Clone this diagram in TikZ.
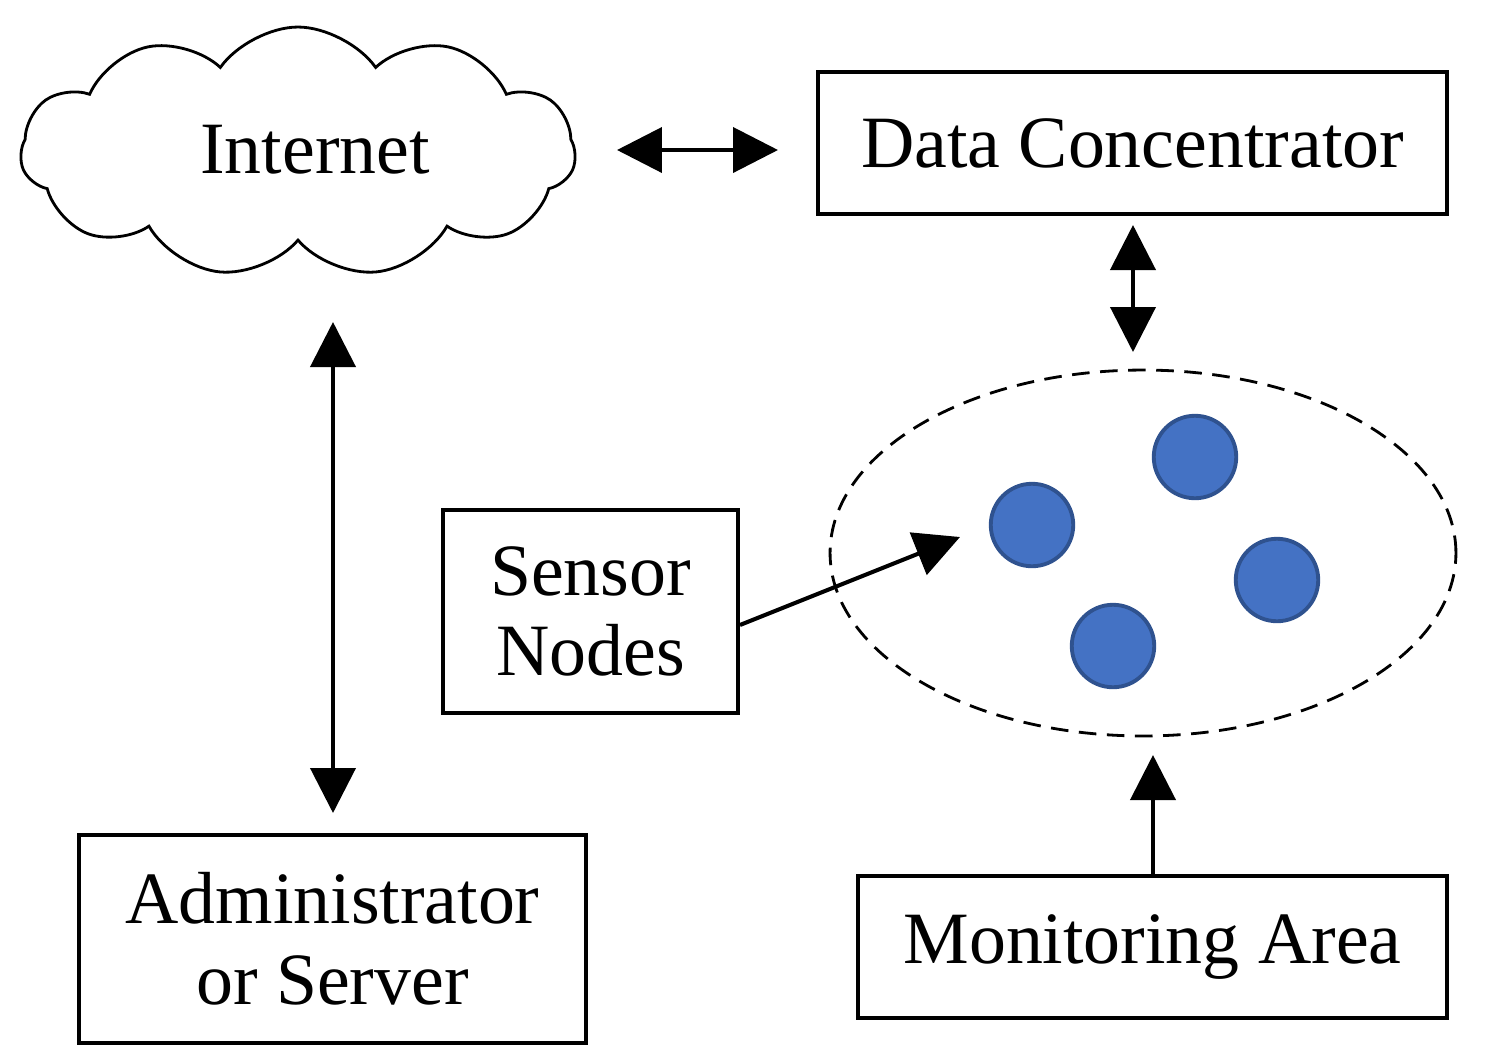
\documentclass[tikz,border=0pt]{standalone}
\usepackage{fontspec}
\setmainfont{Liberation Serif}
\usetikzlibrary{shapes.symbols,shapes.geometric,arrows.meta}
\definecolor{nodefill}{HTML}{4472C4}
\definecolor{nodeline}{HTML}{2F528F}
\begin{document}
\begin{tikzpicture}[x=0.02cm,y=-0.02cm,
  box/.style={draw,line width=2pt,inner sep=0pt,font=\fontsize{42}{50}\selectfont,align=center},
  conn/.style={line width=2.3pt,{Triangle[length=0.9cm,width=0.9cm]}-{Triangle[length=0.9cm,width=0.9cm]}},
  oneway/.style={line width=2.3pt,-{Triangle[length=0.9cm,width=0.9cm]}},
  sensor/.style={circle,draw=nodeline,fill=nodefill,line width=2.2pt,minimum width=1.65cm,inner sep=0pt}]
\useasboundingbox (0,0) rectangle (1499,1063);
\node[cloud,draw,line width=1.6pt,cloud puffs=11,cloud puff arc=110,aspect=2.2,minimum width=11.1cm,minimum height=5cm] (cloud) at (298,152) {};
\node[font=\fontsize{42}{50}\selectfont] (inet) at (315,150) {Internet};
\node[box,minimum width=12.58cm,minimum height=2.84cm] (dc) at (1132.5,143) {Data Concentrator};
\node[box,minimum width=10.14cm,minimum height=4.16cm] (admin) at (332.5,939) {Administrator\\[-4pt]or Server};
\node[box,minimum width=5.9cm,minimum height=4.06cm] (sn) at (590.5,611.5) {Sensor\\[-4pt]Nodes};
\node[box,minimum width=11.78cm,minimum height=2.84cm] (ma) at (1152.5,947) {Monitoring Area};
\node[ellipse,draw,dashed,dash pattern=on 10pt off 6pt,line width=1.6pt,minimum width=12.52cm,minimum height=7.32cm] (area) at (1143,553) {};
\node[sensor] (s1) at (1032,525) {};
\node[sensor] (s2) at (1195,457) {};
\node[sensor] (s3) at (1277,580) {};
\node[sensor] (s4) at (1113,646) {};
\coordinate (a1) at (617,150); \coordinate (a2) at (778,150);
\coordinate (b1) at (1133,225); \coordinate (b2) at (1133,352);
\coordinate (c1) at (333,322); \coordinate (c2) at (333,813);
\coordinate (d1) at (740,625); \coordinate (d2) at (960,537);
\coordinate (e1) at (1153,876); \coordinate (e2) at (1153,755);
\draw[conn] (a1) -- (a2);
\draw[conn] (b1) -- (b2);
\draw[conn] (c1) -- (c2);
\draw[oneway] (d1) -- (d2);
\draw[oneway] (e1) -- (e2);
\end{tikzpicture}
\end{document}
